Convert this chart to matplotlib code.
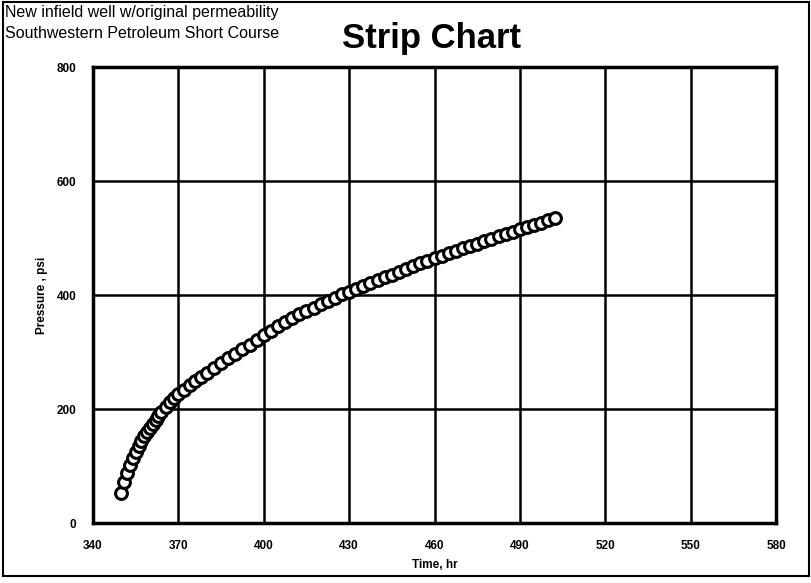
import matplotlib
matplotlib.use("Agg")
import matplotlib.pyplot as plt
from matplotlib.patches import Rectangle

# pressure buildup readings
time_hr = [350.0, 351.0, 352.0, 353.0, 354.0, 355.0, 356.0, 357.0, 358.0, 359.0,
           360.0, 361.0, 362.0, 363.0, 364.0, 365.5, 367.0, 368.5, 370.0, 372.0,
           374.0, 376.0, 378.0, 380.0, 382.5, 385.0, 387.5, 390.0, 392.5, 395.0,
           397.5, 400.0, 402.5, 405.0, 407.5, 410.0, 412.5, 415.0, 417.5, 420.0,
           422.5, 425.0, 427.5, 430.0, 432.5, 435.0, 437.5, 440.0, 442.5, 445.0,
           447.5, 450.0, 452.5, 455.0, 457.5, 460.0, 462.5, 465.0, 467.5, 470.0,
           472.5, 475.0, 477.5, 480.0, 482.5, 485.0, 487.5, 490.0, 492.5, 495.0,
           497.5, 500.0, 502.5]
pressure_psi = [53, 72, 88, 102, 114, 125, 135, 144, 152, 160,
                167, 174, 181, 188, 195, 204, 212, 219, 226, 234,
                242, 249, 256, 263, 272, 280, 289, 297, 305, 313,
                321, 329, 337, 345, 352, 359, 366, 372, 378, 384,
                390, 395, 401, 406, 411, 416, 421, 426, 431, 436,
                441, 446, 451, 456, 460, 465, 469, 474, 478, 482,
                486, 490, 494, 499, 503, 507, 511, 515, 519, 523,
                527, 531, 535]

x_ticks = [340, 370, 400, 430, 460, 490, 520, 550, 580]
y_ticks = [0, 200, 400, 600, 800]

plt.rcParams["font.family"] = ["Liberation Sans", "DejaVu Sans"]

fig = plt.figure(figsize=(8.12, 5.83), dpi=100)
ax = fig.add_axes([0.1145, 0.1029, 0.8412, 0.7821])

ax.plot(time_hr, pressure_psi, linestyle="none", marker="o", markersize=8.5,
        markerfacecolor="white", markeredgecolor="black", markeredgewidth=2.2)

ax.set_xlim(340, 580)
ax.set_ylim(0, 800)
ax.set_xticks(x_ticks)
ax.set_yticks(y_ticks)
ax.grid(True, color="black", linewidth=1.8)
ax.set_axisbelow(True)
for s in ax.spines.values():
    s.set_linewidth(2.5)
ax.tick_params(length=0, pad=12, labelsize=8.5)
for lab in ax.get_xticklabels() + ax.get_yticklabels():
    lab.set_fontweight("bold")

ax.set_xlabel("Time, hr", fontsize=8.5, fontweight="bold", labelpad=5)
ax.set_ylabel("Pressure , psi", fontsize=8.5, fontweight="bold", labelpad=6)

fig.text(0.532, 0.934, "Strip Chart", fontsize=25, fontweight="bold",
         ha="center", va="center")
fig.text(0.006, 0.978, "New infield well w/original permeability", fontsize=11.5,
         ha="left", va="center")
fig.text(0.006, 0.942, "Southwestern Petroleum Short Course", fontsize=11.5,
         ha="left", va="center")

fig.patches.append(Rectangle((0.004, 0.012), 0.992, 0.984, transform=fig.transFigure,
                             fill=False, edgecolor="black", linewidth=1.5))

plt.savefig("out.png", dpi=100)
